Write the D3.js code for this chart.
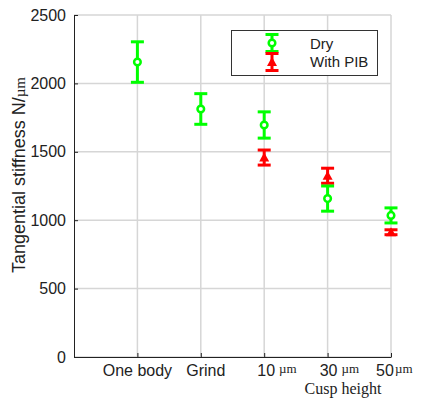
<!DOCTYPE html>
<html>
<head>
<meta charset="utf-8">
<script src="https://cdn.jsdelivr.net/npm/d3@7"></script>
<style>
  body { margin: 0; background: #fff; }
  svg { display: block; }
  text { font-family: "Liberation Sans", Arial, sans-serif; fill: #222; }
  .serif { font-family: "Liberation Serif", "Times New Roman", serif; }
</style>
</head>
<body>
<div id="chart"></div>
<script>
// values
const categories = ["One body", "Grind", "10", "30", "50"];
const units = ["", "", "\u00b5m", "\u00b5m", "\u00b5m"];
const dryMean = [2156, 1813, 1696, 1158, 1035];
const dryErr = [148, 112, 96, 92, 55];
const pibMean = [null, null, 1458, 1325, 912];
const pibErr = [null, null, 55, 55, 18];
const yTicks = [0, 500, 1000, 1500, 2000, 2500];

const width = 423, height = 398;
const margin = { top: 15, left: 74, bottom: 41, right: 32 };
const iwidth = width - margin.left - margin.right;
const iheight = height - margin.top - margin.bottom;

const svg = d3.select("#chart").append("svg")
  .attr("width", width)
  .attr("height", height);

const g = svg.append("g").attr("transform", `translate(${margin.left},${margin.top})`);

const x = d3.scaleLinear().domain([0, categories.length]).range([0, iwidth]);
const y = d3.scaleLinear().domain([0, 2500]).range([iheight, 0]);
const xi = d3.range(1, categories.length + 1);

// grid
g.append("g").selectAll("line").data(yTicks).join("line")
  .attr("x1", 0).attr("x2", iwidth)
  .attr("y1", d => y(d)).attr("y2", d => y(d))
  .attr("stroke", "#d6d6d6").attr("stroke-width", 1.5);
g.append("g").selectAll("line").data(xi).join("line")
  .attr("x1", d => x(d)).attr("x2", d => x(d))
  .attr("y1", 0).attr("y2", iheight)
  .attr("stroke", "#d6d6d6").attr("stroke-width", 1.5);

// axes
const yAxis = g.append("g")
  .call(d3.axisLeft(y).tickValues(yTicks).tickFormat(d3.format("d"))
    .tickSizeInner(-4).tickSizeOuter(0).tickPadding(8));
yAxis.select(".domain").attr("stroke", "#222");
yAxis.selectAll(".tick line").attr("stroke", "#222");
yAxis.selectAll("text").style("font-size", "16px").attr("fill", "#222");

const xAxis = g.append("g")
  .attr("transform", `translate(0,${iheight})`)
  .call(d3.axisBottom(x).tickValues(xi).tickSizeInner(-4).tickSizeOuter(0).tickFormat(() => ""));
xAxis.select(".domain").attr("stroke", "#222");
xAxis.selectAll(".tick line").attr("stroke", "#222");

// x labels (hand placed in the original figure)
const labelShift = [0, 5, 2, 1, -6];
const lab = g.append("g").selectAll("g").data(categories).join("g")
  .attr("transform", (d, i) => `translate(${x(i + 1) + labelShift[i]},${iheight + 19})`);
lab.append("text")
  .attr("text-anchor", "middle")
  .style("font-size", "16px")
  .text(d => d);
lab.each(function (d, i) {
  if (!units[i]) return;
  const t = d3.select(this).select("text");
  const w = t.node().getComputedTextLength();
  d3.select(this).append("text")
    .attr("class", "serif")
    .attr("x", w / 2 + (i === 4 ? 1 : 4))
    .attr("y", -3)
    .style("font-size", "13px")
    .text(units[i]);
});

svg.append("text")
  .attr("class", "serif")
  .attr("x", 343).attr("y", 394)
  .attr("text-anchor", "middle")
  .style("font-size", "16px")
  .text("Cusp height");

// y label
const yl = svg.append("text")
  .attr("transform", "translate(25,175) rotate(-90)")
  .attr("text-anchor", "middle")
  .style("font-size", "18px");
yl.append("tspan").text("Tangential stiffness  N/");
yl.append("tspan").attr("class", "serif").style("font-size", "15px").text("\u00b5m");

// error bars
function errBar(sel, cx, lo, hi, color) {
  sel.append("line").attr("x1", cx).attr("x2", cx).attr("y1", lo).attr("y2", hi)
    .attr("stroke", color).attr("stroke-width", 3);
  [lo, hi].forEach(v => sel.append("line")
    .attr("x1", cx - 6.5).attr("x2", cx + 6.5).attr("y1", v).attr("y2", v)
    .attr("stroke", color).attr("stroke-width", 3));
}
function circleMark(sel, cx, cy) {
  sel.append("circle").attr("cx", cx).attr("cy", cy).attr("r", 3.3)
    .attr("fill", "#fff").attr("stroke", "#00ff00").attr("stroke-width", 2.5);
}
function triMark(sel, cx, cy) {
  sel.append("path")
    .attr("d", `M${cx},${cy - 5}L${cx + 5},${cy + 4}L${cx - 5},${cy + 4}Z`)
    .attr("fill", "#ff0000");
}

const marks = g.append("g");
pibMean.forEach((m, i) => {
  if (m == null) return;
  const cx = x(i + 1);
  errBar(marks, cx, y(m - pibErr[i]), y(m + pibErr[i]), "#ff0000");
  triMark(marks, cx, y(m));
});
dryMean.forEach((m, i) => {
  const cx = x(i + 1);
  errBar(marks, cx, y(m - dryErr[i]), y(m + dryErr[i]), "#00ff00");
  circleMark(marks, cx, y(m));
});

// legend
const lg = svg.append("g");
lg.append("rect").attr("x", 231.5).attr("y", 30.5).attr("width", 146).attr("height", 45)
  .attr("fill", "#fff").attr("stroke", "#333").attr("stroke-width", 1);
errBar(lg, 272, 34.5, 51.5, "#00ff00");
circleMark(lg, 272, 43);
errBar(lg, 272, 53.5, 70.5, "#ff0000");
triMark(lg, 272, 62);
lg.append("text").attr("x", 310).attr("y", 48.5).style("font-size", "15px").text("Dry");
lg.append("text").attr("x", 310).attr("y", 67).style("font-size", "15px").text("With PIB");
</script>
</body>
</html>
